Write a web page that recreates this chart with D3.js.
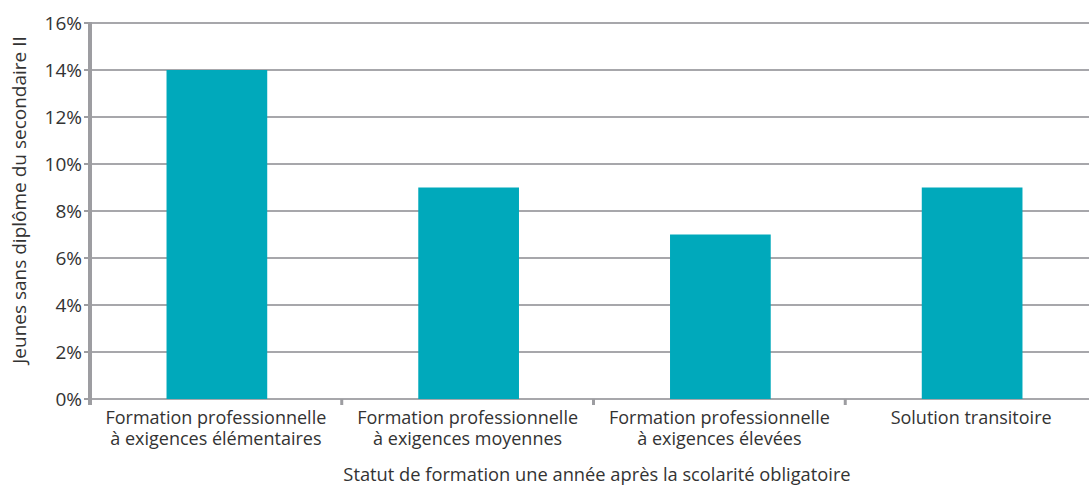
<!DOCTYPE html>
<html><head><meta charset="utf-8">
<script src="https://cdn.jsdelivr.net/npm/d3@7"></script>
<style>body{margin:0;background:#fff}svg{display:block}text{font-family:"Open Sans","Noto Sans",sans-serif;fill:#333}</style>
</head><body>
<svg id="c" width="1089" height="488"></svg>
<script>
const categories = [
  ["Formation professionnelle", "à exigences élémentaires"],
  ["Formation professionnelle", "à exigences moyennes"],
  ["Formation professionnelle", "à exigences élevées"],
  ["Solution transitoire"]
];
const values = [0.14, 0.09, 0.07, 0.09];
const yTicks = [0, 0.02, 0.04, 0.06, 0.08, 0.10, 0.12, 0.14, 0.16];
const yTitle = "Jeunes sans diplôme du secondaire II";
const xTitle = "Statut de formation une année après la scolarité obligatoire";

(function () {
const svg = d3.select("#c");
const mLeft = 90, mRight = 1097, mTop = 23, mBottom = 399;
const ids = categories.map((c, i) => i);
const x = d3.scaleBand().domain(ids).range([mLeft, mRight]).padding(0);
const y = d3.scaleLinear().domain([0, 0.16]).range([mBottom, mTop]);
const barW = x.bandwidth() * 0.4;

// gridlines
svg.append("g").selectAll("line").data(yTicks).join("line")
  .attr("x1", mLeft).attr("x2", 1089)
  .attr("y1", d => y(d)).attr("y2", d => y(d))
  .attr("stroke", "#a7a7ab").attr("stroke-width", 2);

// bars
svg.append("g").selectAll("rect").data(values).join("rect")
  .attr("x", (d, i) => x(i) + (x.bandwidth() - barW) / 2 + 1)
  .attr("width", barW)
  .attr("y", d => y(d)).attr("height", d => y(0) - y(d))
  .attr("fill", "#00a9bb");

// y axis line & ticks
svg.append("line").attr("x1", mLeft).attr("x2", mLeft).attr("y1", mTop - 1).attr("y2", mBottom + 6)
  .attr("stroke", "#9d9da1").attr("stroke-width", 4);
svg.append("g").selectAll("line").data(yTicks).join("line")
  .attr("x1", mLeft - 6).attr("x2", mLeft).attr("y1", d => y(d)).attr("y2", d => y(d))
  .attr("stroke", "#9d9da1").attr("stroke-width", 2);
svg.append("g").selectAll("text").data(yTicks).join("text")
  .attr("x", mLeft - 8).attr("y", d => y(d)).attr("dy", "0.36em")
  .attr("text-anchor", "end").attr("font-size", 19)
  .text(d => d3.format(".0%")(d));

// x ticks between categories
svg.append("g").selectAll("line").data(ids.slice(1)).join("line")
  .attr("x1", d => x(d)).attr("x2", d => x(d)).attr("y1", mBottom).attr("y2", mBottom + 6)
  .attr("stroke", "#9d9da1").attr("stroke-width", 3);

// x labels (one text per line)
const lines = [];
categories.forEach((c, i) => c.forEach((t, j) => lines.push({i, j, t})));
svg.append("g").selectAll("text").data(lines).join("text")
  .attr("x", d => x(d.i) + x.bandwidth() / 2)
  .attr("y", d => 424 + d.j * 21)
  .attr("text-anchor", "middle").attr("font-size", 18)
  .text(d => d.t);

// titles
svg.append("text").attr("x", 597).attr("y", 481).attr("text-anchor", "middle")
  .attr("font-size", 18.3).text(xTitle);
svg.append("text").attr("transform", "translate(26,200) rotate(-90)")
  .attr("text-anchor", "middle").attr("font-size", 19).text(yTitle);
})();
</script>
</body></html>
